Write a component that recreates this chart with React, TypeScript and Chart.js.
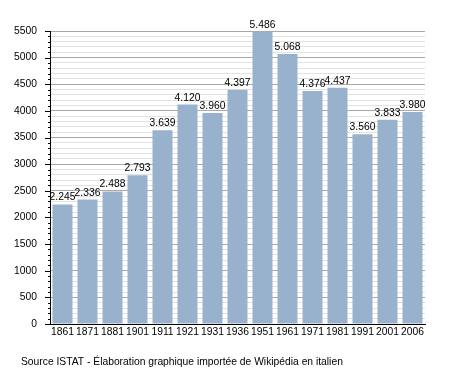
import React, { useEffect, useRef } from "react";
import { Chart, registerables } from "chart.js";

Chart.register(...registerables);

const categories = ["1861", "1871", "1881", "1901", "1911", "1921", "1931", "1936", "1951", "1961", "1971", "1981", "1991", "2001", "2006"];
const population = [2245, 2336, 2488, 2793, 3639, 4120, 3960, 4397, 5486, 5068, 4376, 4437, 3560, 3833, 3980];
const yMax = 5500;
const majorStep = 500;
const minorStep = 100;
const caption = "Source ISTAT - Élaboration graphique importée de Wikipédia en italien";

const FONT = "'Liberation Sans', Arial, sans-serif";
const FS = 10.3;

function fmt(v: number) {
  const s = String(v);
  if (s.length <= 3) return s;
  return s.slice(0, s.length - 3) + "." + s.slice(s.length - 3);
}

const extras = {
  id: "extras",
  afterDatasetsDraw(chart: any) {
    const ctx = chart.ctx;
    const meta = chart.getDatasetMeta(0);
    ctx.save();
    ctx.fillStyle = "#000";
    ctx.font = `${FS}px ${FONT}`;
    ctx.textAlign = "center";
    ctx.textBaseline = "alphabetic";
    meta.data.forEach((bar: any, i: number) => {
      ctx.fillText(fmt(population[i]), bar.x, bar.y - 4);
    });
    // y-axis tick marks
    const y = chart.scales.y;
    const x0 = chart.chartArea.left;
    ctx.strokeStyle = "#000";
    ctx.lineWidth = 1;
    y.ticks.forEach((t: any) => {
      const py = Math.round(y.getPixelForValue(t.value)) + 0.5;
      const len = t.value % majorStep === 0 ? 5 : 2;
      ctx.beginPath();
      ctx.moveTo(x0 - len, py);
      ctx.lineTo(x0, py);
      ctx.stroke();
    });
    // caption
    ctx.textAlign = "left";
    ctx.textBaseline = "middle";
    ctx.font = `${FS}px ${FONT}`;
    ctx.fillText(caption, 21, 362);
    ctx.restore();
  },
};

export default function App() {
  const ref = useRef<HTMLCanvasElement | null>(null);
  useEffect(() => {
    if (!ref.current) return;
    const chart = new Chart(ref.current, {
      type: "bar",
      data: {
        labels: categories,
        datasets: [
          {
            data: population,
            backgroundColor: "#98b2cd",
            borderWidth: 0,
            barPercentage: 0.8,
            categoryPercentage: 1,
          },
        ],
      },
      options: {
        animation: false,
        responsive: true,
        maintainAspectRatio: false,
        layout: { padding: { top: 31, right: 30, left: 0, bottom: 0 } },
        plugins: { legend: { display: false }, tooltip: { enabled: false } },
        scales: {
          x: {
            grid: { display: false, drawTicks: false },
            border: { display: true, color: "#000", width: 1 },
            ticks: { color: "#000", font: { family: FONT, size: FS }, padding: 2, maxRotation: 0, autoSkip: false },
            afterFit(scale: any) {
              scale.height = 49;
            },
          },
          y: {
            min: 0,
            max: yMax,
            grid: {
              drawTicks: false,
              color: (c: any) => (c.tick && c.tick.value % majorStep === 0 ? "#a9a9a9" : "#e2e2e2"),
              lineWidth: 1,
            },
            border: { display: true, color: "#000", width: 1 },
            ticks: {
              stepSize: minorStep,
              autoSkip: false,
              color: "#000",
              font: { family: FONT, size: FS },
              padding: 13,
              callback: (v: any) => (Number(v) % majorStep === 0 ? String(v) : ""),
            },
            afterFit(scale: any) {
              scale.width = 50;
            },
          },
        },
      },
      plugins: [extras],
    });
    return () => chart.destroy();
  }, []);
  return (
    <div style={{ position: "fixed", left: 0, top: 0, width: 455, height: 373, background: "#fff" }}>
      <canvas ref={ref} />
    </div>
  );
}
